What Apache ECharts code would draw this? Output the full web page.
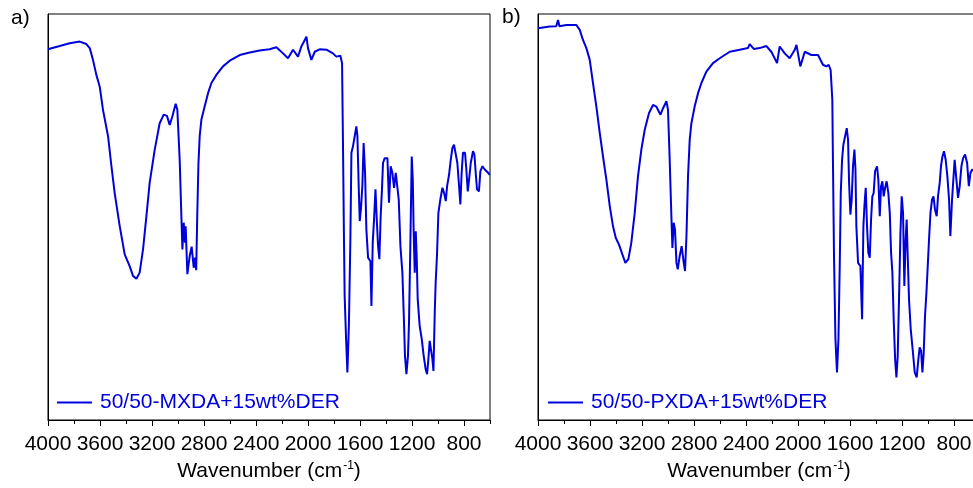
<!DOCTYPE html>
<html>
<head>
<meta charset="utf-8">
<script src="https://cdn.jsdelivr.net/npm/echarts@6/dist/echarts.min.js"></script>
<style>
html,body{margin:0;padding:0;background:#fff;}
#c{width:973px;height:488px;}
</style>
</head>
<body>
<div id="c"></div>
<script>
// ---- Data (wavenumber in cm-1, transmittance in arbitrary %) ----
const wnA = [4000,3910,3833,3756,3705,3679,3654,3628,3602,3577,3538,3512,3487,3448,3410,3372,3346,3320,3295,3269,3243,3218,3179,3141,3110,3085,3064,3043,3018,3005,2987,2974,2966,2956,2946,2941,2928,2910,2895,2879,2869,2860,2852,2843,2833,2820,2795,2769,2743,2705,2654,2602,2525,2448,2372,2295,2243,2192,2154,2115,2077,2051,2012,2000,1974,1948,1910,1858,1808,1782,1751,1738,1731,1723,1718,1707,1697,1685,1674,1666,1654,1641,1628,1620,1610,1602,1592,1582,1572,1561,1551,1538,1520,1512,1502,1492,1481,1471,1461,1451,1441,1431,1423,1410,1389,1377,1364,1351,1338,1325,1315,1302,1289,1274,1264,1254,1243,1231,1223,1212,1202,1194,1187,1179,1171,1164,1156,1141,1125,1110,1095,1084,1074,1064,1051,1043,1035,1025,1018,1008,997,982,966,953,940,930,915,902,889,877,864,851,838,828,818,808,792,782,771,761,748,731,720,710,700,685,674,658,640,615,602];
const tA = [91.3,92.1,92.8,93.2,92.6,91.6,88.7,85.0,82.1,76.4,69.9,62.5,55.9,47.7,40.8,37.9,35.5,34.8,36.3,42.0,50.2,58.4,66.6,73.1,75.2,74.9,72.7,74.8,77.9,76.4,64.1,50.2,42.0,48.6,43.7,47.7,35.9,40.4,42.7,37.5,40.0,36.9,50.2,62.9,70.0,74.0,77.2,80.5,83.0,85.0,87.1,88.5,89.9,90.5,91.0,91.3,91.8,90.3,89.1,91.2,89.5,92.0,94.4,91.6,88.7,90.7,91.3,91.2,90.3,89.5,89.7,87.9,68.3,43.7,30.5,19.9,11.7,24.0,44.5,65.8,67.4,67.8,72.3,69.9,57.6,49.0,52.3,57.6,68.2,60.9,46.9,40.0,39.1,28.1,43.7,49.4,56.8,49.4,42.8,39.6,50.2,56.8,63.3,64.5,64.5,53.5,62.5,60.9,57.2,60.9,61.3,54.3,42.8,36.3,26.5,15.8,11.3,15.8,24.0,44.5,64.9,59.2,46.1,36.3,46.5,40.4,29.7,23.2,19.9,15.8,12.5,11.3,15.0,19.5,19.1,15.0,12.1,26.5,33.8,40.4,51.0,54.3,57.2,55.9,53.9,57.6,60.4,64.1,67.0,67.8,67.4,63.3,57.6,53.1,60.9,65.8,65.8,61.7,56.3,59.2,63.3,66.2,65.4,60.9,56.8,56.3,61.3,62.5,61.7,60.9,60.4];

const wnB = [4000,3910,3860,3846,3835,3782,3705,3679,3654,3628,3602,3577,3551,3525,3500,3474,3448,3423,3402,3377,3351,3328,3305,3282,3256,3231,3205,3179,3146,3115,3090,3058,3038,3012,3000,2987,2974,2966,2956,2946,2935,2925,2910,2895,2879,2869,2858,2846,2833,2820,2795,2769,2743,2705,2654,2602,2525,2448,2385,2372,2340,2295,2243,2205,2161,2141,2102,2064,2025,2012,1982,1948,1897,1846,1808,1782,1764,1749,1736,1731,1723,1712,1700,1689,1679,1671,1661,1651,1638,1625,1615,1607,1597,1587,1577,1566,1558,1551,1538,1520,1507,1497,1489,1479,1469,1459,1448,1438,1428,1418,1407,1392,1382,1371,1361,1351,1341,1330,1318,1305,1294,1284,1274,1264,1253,1243,1233,1223,1212,1202,1192,1182,1172,1164,1156,1146,1133,1118,1102,1087,1074,1064,1053,1043,1033,1023,1012,1002,992,981,969,958,946,933,923,910,900,889,877,864,851,838,828,815,805,795,782,769,756,743,730,715,699,686,673,660,640,620,600];
const tB = [96.5,96.9,97.0,98.5,97.0,97.3,97.3,96.1,93.6,91.6,88.7,83.0,77.2,70.7,64.9,59.2,52.7,47.7,44.9,43.2,40.8,38.7,39.6,43.7,51.0,60.0,66.6,71.5,75.6,77.6,77.2,75.2,76.8,78.5,76.4,64.1,50.2,42.4,48.6,46.9,38.7,37.1,40.4,42.8,38.7,36.7,45.3,60.0,69.0,73.1,77.2,80.5,83.0,85.8,87.9,89.1,90.7,91.2,91.6,92.6,91.4,91.6,92.1,90.7,87.9,92.0,90.3,89.1,91.2,92.4,87.1,90.7,89.9,89.9,87.5,87.1,87.5,86.2,78.9,63.3,40.4,19.9,11.7,19.9,37.9,55.9,64.1,67.8,68.2,71.9,69.0,58.4,50.6,54.3,62.5,66.6,61.7,47.7,38.7,37.9,24.8,47.7,52.7,57.2,47.7,41.2,40.0,49.4,55.1,55.9,61.3,62.5,59.2,50.2,57.6,58.8,55.1,57.2,58.8,55.9,51.0,41.2,36.3,24.8,15.0,10.5,15.8,29.7,46.1,55.1,51.0,33.0,44.5,49.4,40.4,29.7,22.4,17.4,11.7,10.5,15.0,17.9,17.0,11.7,16.6,25.6,31.4,37.9,44.5,51.0,54.3,55.1,51.8,50.2,55.1,58.4,62.5,64.9,66.2,64.1,60.0,54.3,45.3,54.3,59.2,64.1,64.5,54.7,57.6,62.5,64.5,65.4,63.3,57.6,60.9,61.7,61.2,62.2,61.7];

const seriesNames = ['50/50-MXDA+15wt%DER', '50/50-PXDA+15wt%DER'];
const panelLabels = ['a)', 'b)'];
const majorTicks = [800,1200,1600,2000,2400,2800,3200,3600,4000];
const minorTicks = [600,1000,1400,1800,2200,2600,3000,3400,3800];
const xMin = 600, xMax = 4000;

// ---- Chart ----
const FONT = 'Liberation Sans, Arial, sans-serif';
const BLUE = '#0000dd';
const pairs = (xs, ys) => xs.map((x, i) => [x, ys[i]]);

function mainX(gi) {
  return {
    gridIndex: gi, type: 'value', min: xMin, max: xMax, inverse: true, position: 'bottom',
    axisLine: { show: true, onZero: false, lineStyle: { color: '#000', width: 1 } },
    axisTick: { show: true, inside: false, length: 6, customValues: majorTicks, lineStyle: { color: '#000', width: 1 } },
    axisLabel: {
      show: true, customValues: majorTicks, fontSize: 21, color: '#000', margin: 14, fontFamily: FONT,
      showMinLabel: true, showMaxLabel: true, hideOverlap: false,
      formatter: v => String(v)
    },
    splitLine: { show: false },
    name: '{t|Wavenumber (cm}{s|-1}{t|)}',
    nameLocation: 'middle', nameGap: 40,
    nameTextStyle: {
      fontFamily: FONT, color: '#000',
      rich: {
        t: { fontSize: 21, fontFamily: FONT, color: '#000', lineHeight: 22 },
        s: { fontSize: 12, fontFamily: FONT, color: '#000', lineHeight: 12, verticalAlign: 'top', padding: [0, 0, 0, 1] }
      }
    }
  };
}
function minorX(gi) {
  return {
    gridIndex: gi, type: 'value', min: xMin, max: xMax, inverse: true, position: 'bottom',
    axisLine: { show: false, onZero: false },
    axisTick: { show: true, inside: false, length: 4, customValues: minorTicks, lineStyle: { color: '#000', width: 1 } },
    axisLabel: { show: false },
    splitLine: { show: false }
  };
}
function yAx(gi) {
  return {
    gridIndex: gi, type: 'value', min: 0, max: 100,
    axisLine: { show: true, lineStyle: { color: '#000', width: 1 } },
    axisTick: { show: false }, axisLabel: { show: false }, splitLine: { show: false }
  };
}
function legendFor(i, left) {
  return {
    data: [seriesNames[i]], left: left, top: 392, padding: 0, orient: 'horizontal',
    icon: 'rect', itemWidth: 35, itemHeight: 2, itemGap: 10, selectedMode: false,
    textStyle: { color: BLUE, fontSize: 21, fontFamily: FONT, padding: [0, 0, 0, 3] }
  };
}
function series(i, xs, ys) {
  return {
    name: seriesNames[i], type: 'line', xAxisIndex: i * 2, yAxisIndex: i,
    data: pairs(xs, ys), showSymbol: false, symbol: 'none', smooth: false,
    lineStyle: { color: BLUE, width: 2 }, itemStyle: { color: BLUE },
    animation: false, clip: true
  };
}

const chart = echarts.init(document.getElementById('c'), null, { renderer: 'canvas' });
chart.setOption({
  animation: false,
  backgroundColor: '#fff',
  grid: [
    { left: 48, top: 14, width: 442, height: 406, show: true, borderColor: '#000', borderWidth: 1, backgroundColor: 'transparent', containLabel: false, outerBoundsMode: 'none' },
    { left: 538, top: 14, width: 442, height: 406, show: true, borderColor: '#000', borderWidth: 1, backgroundColor: 'transparent', containLabel: false, outerBoundsMode: 'none' }
  ],
  xAxis: [mainX(0), minorX(0), mainX(1), minorX(1)],
  yAxis: [yAx(0), yAx(1)],
  legend: [legendFor(0, 57), legendFor(1, 548)],
  series: [series(0, wnA, tA), series(1, wnB, tB)],
  graphic: [
    { type: 'text', left: 11, top: 8, style: { text: panelLabels[0], fontSize: 21, fontFamily: FONT, fill: '#000' } },
    { type: 'text', left: 502, top: 7, style: { text: panelLabels[1], fontSize: 21, fontFamily: FONT, fill: '#000' } }
  ]
});
</script>
</body>
</html>
